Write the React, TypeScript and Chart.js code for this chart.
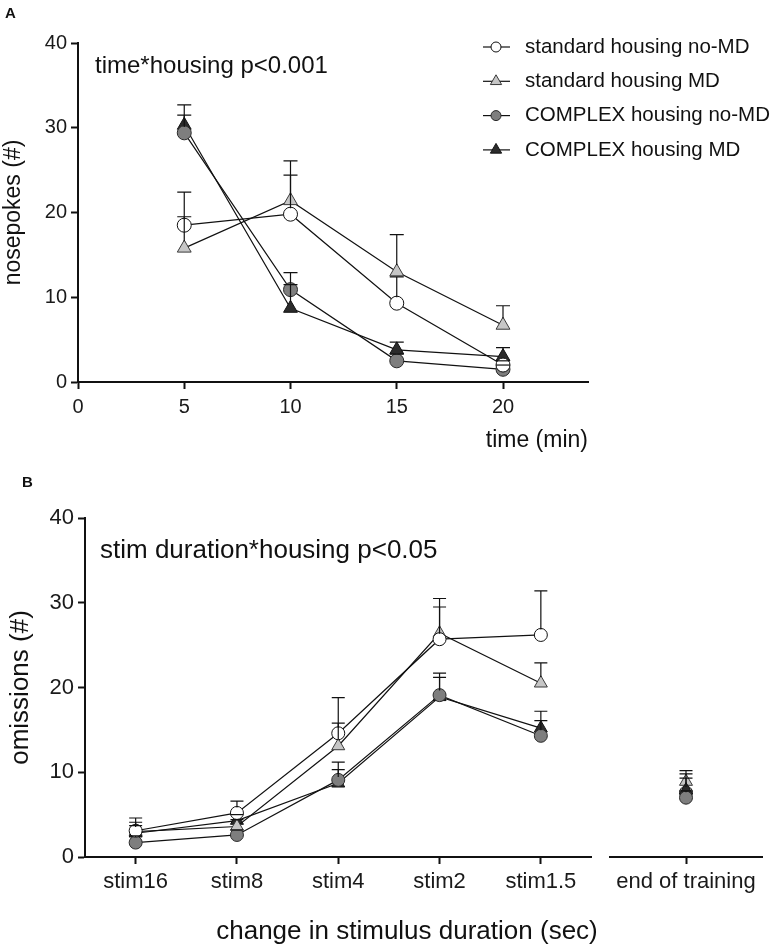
import React, { useEffect, useRef } from 'react';
import { Chart, registerables } from 'chart.js';

Chart.register(...registerables);

const FONT = "'Liberation Sans', Arial, Helvetica, sans-serif";

// ---------- shared ----------
const seriesLabels = [
  'standard housing no-MD',
  'standard housing MD',
  'COMPLEX housing no-MD',
  'COMPLEX housing MD',
];

// ---------- panel A : nosepokes over time ----------
const timeMinutes = [5, 10, 15, 20];
const nosepokesStdNoMD = [18.5, 19.8, 9.3, 2.0];
const nosepokesStdNoMDErr = [3.9, 4.6, 3.1, 0.5];
const nosepokesStdMD = [15.8, 21.4, 13.0, 6.7];
const nosepokesStdMDErr = [3.7, 4.7, 4.4, 2.3];
const nosepokesCxNoMD = [29.4, 10.9, 2.5, 1.5];
const nosepokesCxNoMDErr = [2.1, 2.0, 0.8, 0.5];
const nosepokesCxMD = [30.3, 8.7, 3.8, 3.0];
const nosepokesCxMDErr = [2.4, 2.8, 0.9, 1.05];
const timeTickValues = [0, 5, 10, 15, 20];

// ---------- panel B : omissions per stimulus duration ----------
const stimCategories = ['stim16', 'stim8', 'stim4', 'stim2', 'stim1.5'];
const omissionsStdNoMD = [3.1, 5.2, 14.6, 25.7, 26.2];
const omissionsStdNoMDErr = [1.5, 1.4, 4.2, 3.8, 5.2];
const omissionsStdMD = [3.0, 3.6, 13.1, 26.4, 20.5];
const omissionsStdMDErr = [1.1, 0.8, 2.7, 4.1, 2.4];
const omissionsCxNoMD = [1.7, 2.6, 9.1, 19.1, 14.3];
const omissionsCxNoMDErr = [0.8, 0.6, 2.1, 2.6, 1.8];
const omissionsCxMD = [2.8, 4.3, 8.7, 18.9, 15.2];
const omissionsCxMDErr = [0.9, 0.7, 1.6, 2.3, 2.0];

// ---------- panel B : end of training ----------
const endCategories = ['end of training'];
const endStdNoMD = [7.6];
const endStdNoMDErr = [2.2];
const endStdMD = [8.9];
const endStdMDErr = [1.3];
const endCxNoMD = [7.0];
const endCxNoMDErr = [0.8];
const endCxMD = [7.9];
const endCxMDErr = [1.4];

const yTickValues = [0, 10, 20, 30, 40];

// ---------- styles ----------
type Marker = { shape: 'circle' | 'triangle'; fill: string; stroke: string };
const markers: Marker[] = [
  { shape: 'circle', fill: '#ffffff', stroke: '#111111' },
  { shape: 'triangle', fill: '#c6c6c6', stroke: '#3a3a3a' },
  { shape: 'circle', fill: '#7e7e7e', stroke: '#2a2a2a' },
  { shape: 'triangle', fill: '#2b2b2b', stroke: '#111111' },
];

function makeDatasets(values: number[][], errors: number[][], xs: any[] | null, circleR: number, triR: number, orders?: number[]) {
  return values.map((vals, k) => ({
    label: seriesLabels[k],
    data: xs ? vals.map((v, i) => ({ x: xs[i], y: v })) : vals,
    errors: errors[k],
    order: orders ? orders[k] : 0,
    borderColor: '#111111',
    borderWidth: 1.2,
    pointStyle: markers[k].shape,
    pointRadius: markers[k].shape === 'triangle' ? triR : circleR,
    pointBackgroundColor: markers[k].fill,
    pointBorderColor: markers[k].stroke,
    pointBorderWidth: 1,
    fill: false,
    tension: 0,
    clip: false,
  }));
}

// ---------- plugins ----------
const errorBarPlugin = {
  id: 'errorBars',
  afterDatasetsDraw(chart: any, _args: any, opts: any) {
    const ctx = chart.ctx;
    const yScale = chart.scales.y;
    const cap = (opts && opts.capWidth) || 14;
    ctx.save();
    ctx.strokeStyle = '#111111';
    ctx.lineWidth = 1.2;
    chart.data.datasets.forEach((ds: any, di: number) => {
      const meta = chart.getDatasetMeta(di);
      const errs: number[] = ds.errors || [];
      const r = (ds.pointRadius || 6) * 0.85;
      meta.data.forEach((pt: any, i: number) => {
        const raw = ds.data[i];
        const v = typeof raw === 'number' ? raw : raw.y;
        const e = errs[i];
        if (!e) return;
        const yTop = yScale.getPixelForValue(v + e);
        const yStart = pt.y - r;
        ctx.beginPath();
        if (yTop < yStart) {
          ctx.moveTo(pt.x, yStart);
          ctx.lineTo(pt.x, yTop);
        }
        ctx.moveTo(pt.x - cap / 2, yTop);
        ctx.lineTo(pt.x + cap / 2, yTop);
        ctx.stroke();
      });
    });
    ctx.restore();
  },
};

function drawMarker(ctx: CanvasRenderingContext2D, m: Marker, x: number, y: number, r: number) {
  ctx.beginPath();
  if (m.shape === 'circle') {
    ctx.arc(x, y, r, 0, Math.PI * 2);
  } else {
    let a = 0;
    ctx.moveTo(x + Math.sin(a) * r, y - Math.cos(a) * r);
    a += (2 * Math.PI) / 3;
    ctx.lineTo(x + Math.sin(a) * r, y - Math.cos(a) * r);
    a += (2 * Math.PI) / 3;
    ctx.lineTo(x + Math.sin(a) * r, y - Math.cos(a) * r);
    ctx.closePath();
  }
  ctx.fillStyle = m.fill;
  ctx.fill();
  ctx.strokeStyle = m.stroke;
  ctx.lineWidth = 1;
  ctx.stroke();
}

const extrasPlugin = {
  id: 'figureExtras',
  afterDraw(chart: any, _args: any, opts: any) {
    const ctx = chart.ctx;
    ctx.save();
    (opts.texts || []).forEach((t: any) => {
      ctx.font = `${t.size}px ${FONT}`;
      ctx.fillStyle = '#111111';
      ctx.textAlign = 'left';
      ctx.textBaseline = 'alphabetic';
      ctx.fillText(t.text, t.x, t.y);
    });
    const lg = opts.legend;
    if (lg) {
      seriesLabels.forEach((label, k) => {
        const y = lg.y0 + k * lg.dy;
        ctx.strokeStyle = '#111111';
        ctx.lineWidth = 1.2;
        ctx.beginPath();
        ctx.moveTo(lg.lineX0, y);
        ctx.lineTo(lg.lineX1, y);
        ctx.stroke();
        const m = markers[k];
        drawMarker(ctx, m, lg.markerX, y, m.shape === 'triangle' ? lg.triR : lg.circleR);
        ctx.font = `${lg.size}px ${FONT}`;
        ctx.fillStyle = '#111111';
        ctx.textAlign = 'left';
        ctx.textBaseline = 'middle';
        ctx.fillText(label, lg.textX, y);
      });
    }
    ctx.restore();
  },
};

function axisBase(fontSize: number, padding: number) {
  return {
    grid: { display: true, drawOnChartArea: false, drawTicks: true, tickLength: 7, tickWidth: 2, tickColor: '#111111' },
    border: { display: true, color: '#111111', width: 2 },
    ticks: { color: '#1a1a1a', font: { family: FONT, size: fontSize }, padding },
  };
}

// ---------- configs ----------
function configA(): any {
  const values = [nosepokesStdNoMD, nosepokesStdMD, nosepokesCxNoMD, nosepokesCxMD];
  const errors = [nosepokesStdNoMDErr, nosepokesStdMDErr, nosepokesCxNoMDErr, nosepokesCxMDErr];
  const xb = axisBase(20, 6);
  const yb = axisBase(20, 4);
  return {
    type: 'line',
    data: { datasets: makeDatasets(values, errors, timeMinutes, 7, 8) },
    options: {
      animation: false,
      responsive: false,
      maintainAspectRatio: false,
      devicePixelRatio: 1,
      events: [],
      layout: { padding: { left: 0, top: 43, right: 189, bottom: 16 } },
      plugins: {
        legend: { display: false },
        tooltip: { enabled: false },
        errorBars: { capWidth: 14 },
        figureExtras: {
          texts: [{ text: 'time*housing p<0.001', x: 95, y: 73, size: 24 }],
          legend: { y0: 47, dy: 34.3, lineX0: 483, lineX1: 510, markerX: 496, textX: 525, size: 20.5, circleR: 5, triR: 6.5 },
        },
      },
      scales: {
        x: {
          type: 'linear',
          min: 0,
          max: 24,
          ...xb,
          ticks: { ...xb.ticks, stepSize: 5, includeBounds: false },
          afterBuildTicks: (s: any) => { s.ticks = timeTickValues.map((v) => ({ value: v })); },
          title: { display: true, text: 'time (min)', align: 'end', color: '#111111', font: { family: FONT, size: 23 }, padding: { top: 0, bottom: 0 } },
          afterFit: (s: any) => { s.height = 72; },
        },
        y: {
          type: 'linear',
          min: 0,
          max: 40,
          ...yb,
          ticks: { ...yb.ticks, stepSize: 10 },
          afterBuildTicks: (s: any) => { s.ticks = yTickValues.map((v) => ({ value: v })); },
          title: { display: true, text: 'nosepokes (#)', color: '#111111', font: { family: FONT, size: 23 }, padding: { top: 0, bottom: 0 } },
          afterFit: (s: any) => { s.width = 78; },
        },
      },
    },
    plugins: [errorBarPlugin, extrasPlugin],
  };
}

function configB(): any {
  const values = [omissionsStdNoMD, omissionsStdMD, omissionsCxNoMD, omissionsCxMD];
  const errors = [omissionsStdNoMDErr, omissionsStdMDErr, omissionsCxNoMDErr, omissionsCxMDErr];
  const xb = axisBase(22, 5);
  const yb = axisBase(22, 4);
  return {
    type: 'line',
    data: { labels: stimCategories, datasets: makeDatasets(values, errors, null, 6.5, 7.5) },
    options: {
      animation: false,
      responsive: false,
      maintainAspectRatio: false,
      devicePixelRatio: 1,
      events: [],
      layout: { padding: { left: 0, top: 48, right: 5, bottom: 0 } },
      plugins: {
        legend: { display: false },
        tooltip: { enabled: false },
        errorBars: { capWidth: 13 },
        figureExtras: { texts: [{ text: 'stim duration*housing p<0.05', x: 100, y: 88, size: 26 }] },
      },
      scales: {
        x: {
          type: 'category',
          offset: true,
          ...xb,
          grid: { ...xb.grid, offset: false },
          afterFit: (s: any) => { s.height = 90; },
        },
        y: {
          type: 'linear',
          min: 0,
          max: 40,
          ...yb,
          ticks: { ...yb.ticks, stepSize: 10 },
          afterBuildTicks: (s: any) => { s.ticks = yTickValues.map((v) => ({ value: v })); },
          title: { display: true, text: 'omissions (#)', color: '#111111', font: { family: FONT, size: 26 }, padding: { top: 5, bottom: 0 } },
          afterFit: (s: any) => { s.width = 85; },
        },
      },
    },
    plugins: [errorBarPlugin, extrasPlugin],
  };
}

function configEnd(): any {
  const values = [endStdNoMD, endStdMD, endCxNoMD, endCxMD];
  const errors = [endStdNoMDErr, endStdMDErr, endCxNoMDErr, endCxMDErr];
  const xb = axisBase(22, 5);
  return {
    type: 'line',
    data: { labels: endCategories, datasets: makeDatasets(values, errors, null, 6.5, 7.5, [3, 2, 0, 1]) },
    options: {
      animation: false,
      responsive: false,
      maintainAspectRatio: false,
      devicePixelRatio: 1,
      events: [],
      layout: { padding: { left: 10, top: 48, right: 15, bottom: 0 } },
      plugins: {
        legend: { display: false },
        tooltip: { enabled: false },
        errorBars: { capWidth: 13 },
        figureExtras: {},
      },
      scales: {
        x: {
          type: 'category',
          offset: true,
          ...xb,
          grid: { ...xb.grid, offset: false },
          afterFit: (s: any) => { s.height = 90; },
        },
        y: { type: 'linear', min: 0, max: 40, display: false },
      },
    },
    plugins: [errorBarPlugin, extrasPlugin],
  };
}

function ChartCanvas(props: { make: () => any; left: number; top: number; width: number; height: number }) {
  const ref = useRef<HTMLCanvasElement>(null);
  useEffect(() => {
    const chart = new Chart(ref.current as HTMLCanvasElement, props.make());
    return () => chart.destroy();
  }, []);
  return (
    <canvas
      ref={ref}
      width={props.width}
      height={props.height}
      style={{ position: 'absolute', left: props.left, top: props.top, width: props.width, height: props.height }}
    />
  );
}

export default function App() {
  return (
    <div style={{ position: 'absolute', left: 0, top: 0, width: 777, height: 947, background: '#ffffff', overflow: 'hidden', fontFamily: FONT }}>
      <ChartCanvas make={configA} left={0} top={0} width={777} height={470} />
      <ChartCanvas make={configB} left={0} top={470} width={600} height={477} />
      <ChartCanvas make={configEnd} left={600} top={470} width={177} height={477} />
      <div style={{ position: 'absolute', left: 5, top: 5, fontSize: 15, lineHeight: '16px', fontWeight: 'bold', color: '#111' }}>A</div>
      <div style={{ position: 'absolute', left: 22, top: 474, fontSize: 15, lineHeight: '16px', fontWeight: 'bold', color: '#111' }}>B</div>
      <div style={{ position: 'absolute', left: 207, top: 915, width: 400, textAlign: 'center', whiteSpace: 'nowrap', fontSize: 26, lineHeight: '30px', color: '#111' }}>
        change in stimulus duration (sec)
      </div>
    </div>
  );
}
